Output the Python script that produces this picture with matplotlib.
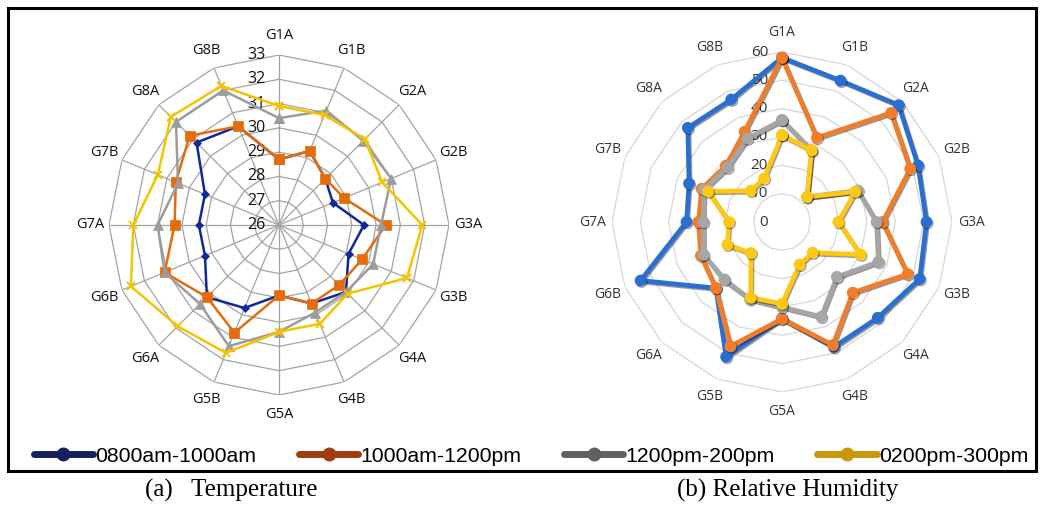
import numpy as np
import matplotlib
matplotlib.use("Agg")
import matplotlib.pyplot as plt
import matplotlib.patheffects as pe
from matplotlib.lines import Line2D
from matplotlib.patches import Rectangle

# Monitoring points, clockwise from the top
stations = ["G1A", "G1B", "G2A", "G2B", "G3A", "G3B", "G4A", "G4B",
            "G5A", "G5B", "G6A", "G6B", "G7A", "G7B", "G8A", "G8B"]
periods = ["0800am-1000am", "1000am-1200pm", "1200pm-200pm", "0200pm-300pm"]

# Air temperature (deg C)
temp_0800 = [28.7, 29.3, 28.7, 28.4, 29.5, 29.1, 29.9, 29.5,
             28.9, 29.7, 30.2, 29.3, 29.3, 29.3, 30.8, 30.4]
temp_1000 = [28.7, 29.3, 28.7, 28.9, 30.4, 29.7, 29.5, 29.5,
             28.9, 30.8, 30.2, 31.1, 30.3, 30.6, 31.2, 30.4]
temp_1200 = [30.4, 31.1, 30.9, 31.0, 30.2, 30.2, 29.9, 29.9,
             30.4, 31.4, 30.6, 31.1, 31.0, 30.5, 32.0, 32.0]
temp_0200 = [30.9, 30.9, 31.0, 30.6, 31.9, 31.7, 30.0, 30.4,
             30.4, 31.7, 31.9, 32.6, 32.0, 31.4, 32.3, 32.2]

# Relative humidity (%)
rh_0800 = [58.0, 54.0, 58.3, 52.0, 51.0, 52.6, 47.8, 47.8,
           34.0, 51.5, 33.0, 54.0, 33.7, 35.5, 47.0, 46.8]
rh_1000 = [58.0, 32.2, 54.5, 49.0, 35.5, 48.0, 35.3, 47.0,
           34.2, 47.5, 33.0, 31.0, 29.5, 30.7, 28.0, 34.5]
rh_1200 = [36.0, 27.4, 12.5, 29.0, 33.4, 36.8, 27.4, 36.2,
           30.0, 29.5, 28.7, 30.0, 27.8, 29.8, 27.2, 31.9]
rh_0200 = [30.7, 27.4, 12.5, 28.0, 19.9, 30.0, 15.3, 16.3,
           28.9, 28.9, 15.5, 20.9, 18.7, 28.2, 15.6, 16.6]

temp_ticks = [26, 27, 28, 29, 30, 31, 32, 33]
rh_ticks = [0, 10, 20, 30, 40, 50, 60]

W, H = 1041, 507
fig = plt.figure(figsize=(W / 100, H / 100), dpi=100)
fig.patch.set_facecolor("white")

theta = np.linspace(0, 2 * np.pi, len(stations), endpoint=False)
theta_c = np.append(theta, theta[0])


def closed(vals):
    return np.append(vals, vals[0])


def radar_axes(cx, cy, rad):
    rect = [(cx - rad) / W, (H - cy - rad) / H, 2 * rad / W, 2 * rad / H]
    ax = fig.add_axes(rect, projection="polar")
    ax.set_theta_zero_location("N")
    ax.set_theta_direction(-1)
    ax.grid(False)
    ax.spines["polar"].set_visible(False)
    ax.patch.set_visible(False)
    ax.set_xticks([])
    ax.set_yticks([])
    return ax


def frame_radar(ax, ticks, grid_color, grid_lw, spokes, label_color,
                tick_color, label_size, tick_size):
    rmin, rmax = ticks[0], ticks[-1]
    ax.set_ylim(rmin, rmax)
    for v in ticks[1:]:
        ax.plot(theta_c, [v] * len(theta_c), color=grid_color, lw=grid_lw,
                zorder=1, solid_joinstyle="miter")
    if spokes:
        for t in theta:
            ax.plot([t, t], [rmin, rmax], color=grid_color, lw=grid_lw, zorder=1)
    r_lab = rmin + 1.112 * (rmax - rmin)
    for t, name in zip(theta, stations):
        ax.text(t, r_lab, name, ha="center", va="center", fontsize=label_size,
                color=label_color, family="Open Sans")
    for v in ticks:
        ax.annotate(str(v), xy=(0, v), xytext=(-10, 0), textcoords="offset points",
                    ha="right", va="center", fontsize=tick_size, color=tick_color,
                    family="Open Sans", zorder=2)


# (a) Temperature
ax1 = radar_axes(279, 225, 170)
frame_radar(ax1, temp_ticks, "#a3a3a3", 0.9, True, "#111111", "#111111", 10.5, 11.5)
temp_series = [temp_0800, temp_1000, temp_1200, temp_0200]
temp_colors = ["#10289c", "#e46c0a", "#9c9c9c", "#f5c400"]
temp_markers = ["D", "s", "^", "x"]
temp_ms = [4.5, 6.5, 6.5, 6]
for vals, c, m, ms in zip(temp_series, temp_colors, temp_markers, temp_ms):
    ax1.plot(theta_c, closed(vals), color=c, lw=1.8, marker=m, ms=ms,
             mew=1.4 if m == "x" else 0.5, mec=c, mfc=c, zorder=3, clip_on=False)

# (b) Relative humidity
ax2 = radar_axes(782, 222, 170)
frame_radar(ax2, rh_ticks, "#d6d6d6", 0.9, False, "#333333", "#333333", 10.0, 11.0)
rh_series = [rh_0800, rh_1000, rh_1200, rh_0200]
rh_colors = ["#2b6ed2", "#f07d2a", "#a6a6a6", "#ffc812"]
shadow = [pe.SimpleLineShadow(offset=(0.8, -1.0), shadow_color="black", alpha=0.4),
          pe.Normal()]
for vals, c in zip(rh_series, rh_colors):
    ax2.plot(theta_c, closed(vals), color=c, lw=3.4, marker="o", ms=7.5,
             mec=c, mfc=c, zorder=3, clip_on=False, path_effects=shadow)

# Shared legend
legend_colors = ["#16205e", "#a23c10", "#606060", "#c99806"]
handles = [Line2D([], [], color=c, lw=5, marker="o", ms=9, solid_capstyle="round")
           for c in legend_colors]
fig.legend(handles, periods, loc="center", bbox_to_anchor=(531 / W, 1 - 456 / H),
           ncol=4, frameon=False, handlelength=2.8, handletextpad=0.1,
           columnspacing=2.0, prop={"family": "Liberation Sans", "size": 15.3})

# Outer frame around both charts
fig.add_artist(Rectangle((8 / W, 1 - 471 / H), 1028 / W, 463 / H,
                         transform=fig.transFigure, fill=False, lw=2.2,
                         edgecolor="black"))

# Panel captions
fig.text(231 / W, 1 - 490 / H, "(a)   Temperature", ha="center", va="center",
         fontsize=18, family="Liberation Serif")
fig.text(788 / W, 1 - 490 / H, "(b) Relative Humidity", ha="center", va="center",
         fontsize=18, family="Liberation Serif")

fig.savefig("out.png", dpi=100, facecolor="white")
